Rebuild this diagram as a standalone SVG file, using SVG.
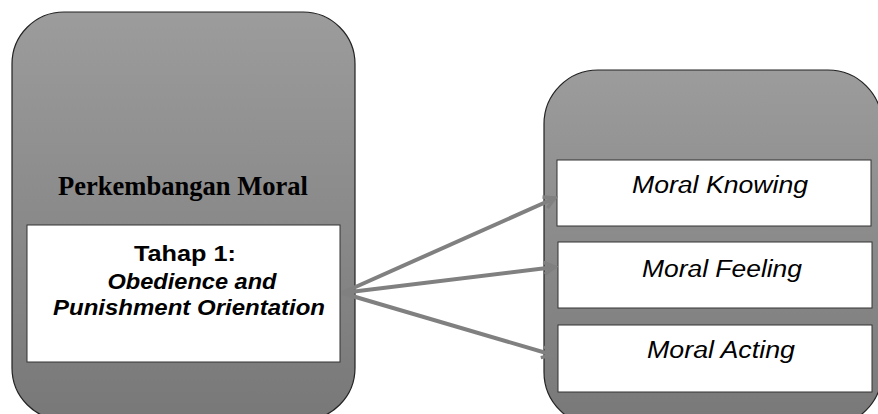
<svg xmlns="http://www.w3.org/2000/svg" width="878" height="414" viewBox="0 0 878 414">
<style>
.outer{stroke:#222;stroke-width:1.2;fill:url(#g)}
.inner{fill:#fff;stroke:#333;stroke-width:1}
.conn{stroke:#808080;stroke-width:4;fill:none;marker-end:url(#ah)}
.it{font-family:"Liberation Sans",Arial,sans-serif;font-style:italic;font-size:23px;fill:#000;text-anchor:middle}
.bd{font-family:"Liberation Sans",Arial,sans-serif;font-weight:bold;font-size:22px;fill:#000;text-anchor:middle}
.ti{font-family:"Liberation Serif","Times New Roman",serif;font-weight:bold;font-size:27px;fill:#000;text-anchor:middle}
</style>
<defs>
<linearGradient id="g" x1="0" y1="0" x2="0" y2="1">
<stop offset="0" stop-color="#9c9c9c"/>
<stop offset="1" stop-color="#787878"/>
</linearGradient>
<marker id="ah" markerWidth="16" markerHeight="16" refX="13" refY="8" orient="auto" markerUnits="userSpaceOnUse">
<path d="M2,2 L13,8 L2,14" fill="none" stroke="#808080" stroke-width="3.5"/>
</marker>
</defs>
<g id="left">
<rect class="outer" x="12" y="12" width="343" height="408" rx="52" ry="52"/>
<text class="ti" x="183" y="195" textLength="250" lengthAdjust="spacingAndGlyphs">Perkembangan Moral</text>
<rect class="inner" x="27" y="225" width="313" height="137"/>
<text class="bd" x="185" y="261" textLength="102" lengthAdjust="spacingAndGlyphs">Tahap 1:</text>
<text class="bd" x="192" y="289" font-style="italic" textLength="169" lengthAdjust="spacingAndGlyphs">Obedience and</text>
<text class="bd" x="189" y="315" font-style="italic" textLength="272" lengthAdjust="spacingAndGlyphs">Punishment Orientation</text>
</g>
<g id="right">
<rect class="outer" x="544" y="70" width="338" height="356" rx="54" ry="54"/>
</g>
<g id="knowing">
<rect class="inner" x="557" y="160" width="314" height="66"/>
<text class="it" x="720" y="193" textLength="176" lengthAdjust="spacingAndGlyphs">Moral Knowing</text>
</g>
<g id="feeling">
<rect class="inner" x="558" y="242" width="314" height="66"/>
<text class="it" x="722" y="277" textLength="160" lengthAdjust="spacingAndGlyphs">Moral Feeling</text>
</g>
<g id="acting">
<rect class="inner" x="558" y="325" width="314" height="67"/>
<text class="it" x="721" y="358" textLength="148" lengthAdjust="spacingAndGlyphs">Moral Acting</text>
</g>
<g id="connectors">
<line class="conn" x1="342" y1="293" x2="555" y2="198"/>
<line class="conn" x1="342" y1="293" x2="555" y2="267"/>
<line class="conn" x1="342" y1="293" x2="553" y2="355"/>
</g>
</svg>
